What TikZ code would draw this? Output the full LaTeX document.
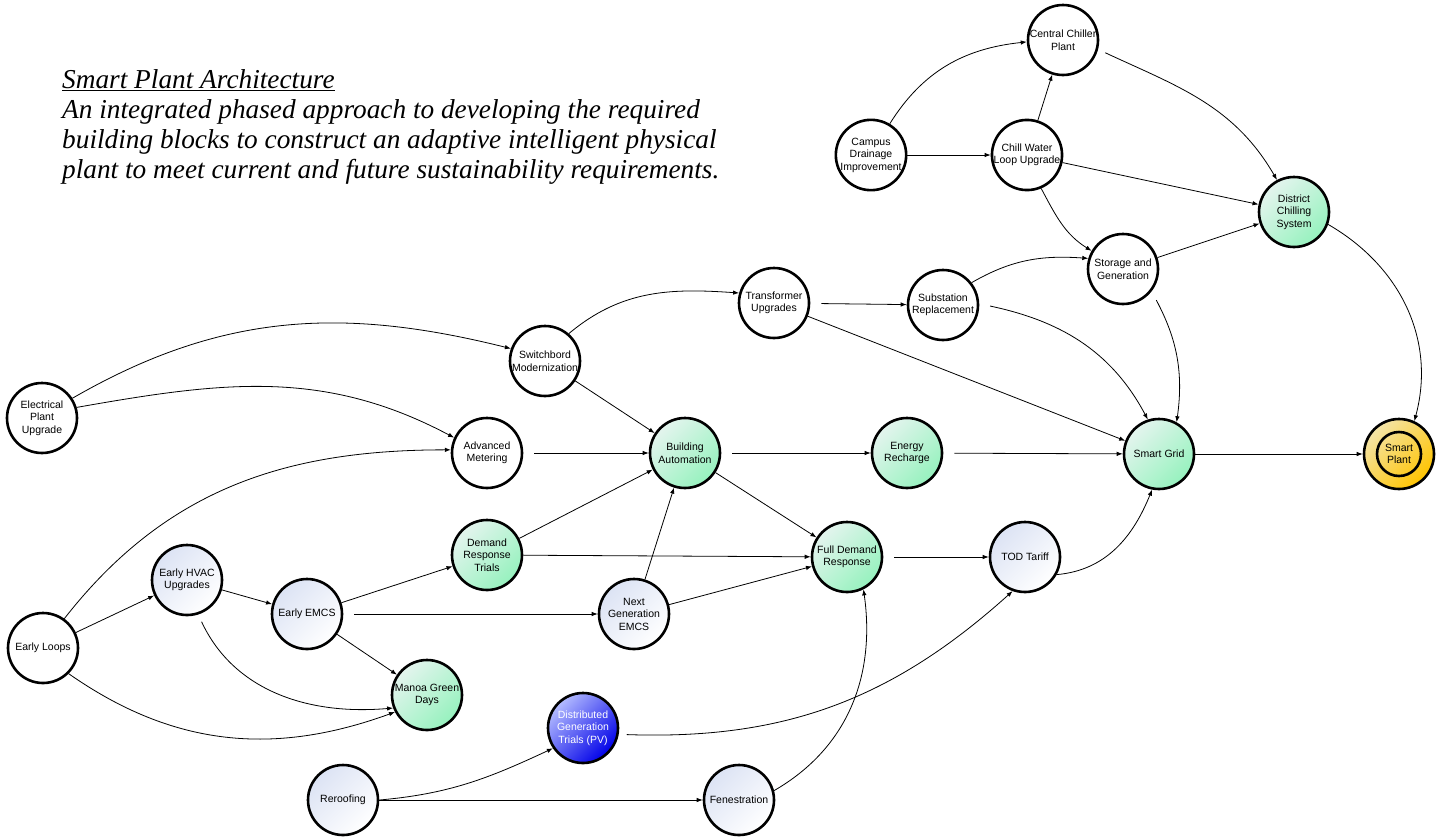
\documentclass[tikz,border=0pt]{standalone}
\usepackage{fontspec}
\setmainfont{Liberation Serif}
\newfontfamily\arial{Liberation Sans}
\usetikzlibrary{arrows.meta}
\definecolor{greenA}{HTML}{E4F4EE}
\definecolor{greenB}{HTML}{96F2BE}
\definecolor{lblueA}{HTML}{DCE3F4}
\definecolor{lblueB}{HTML}{FFFFFF}
\definecolor{blueA}{HTML}{B4BCFF}
\definecolor{blueB}{HTML}{0000E8}
\definecolor{goldA}{HTML}{F4E4A8}
\definecolor{goldB}{HTML}{FFC400}
\begin{document}
\begin{tikzpicture}[x=1pt,y=1pt,
  bub/.style={circle, draw=black, line width=2.6pt, minimum size=70pt, inner sep=0pt, align=center,
    font=\arial\fontsize{10.5}{12.5}\selectfont},
  plainbub/.style={bub, fill=white},
  greenbub/.style={bub, top color=greenA, bottom color=greenB, shading angle=45},
  lightbub/.style={bub, top color=lblueA, bottom color=lblueB, shading angle=45},
  bluebub/.style={bub, top color=blueA, bottom color=blueB, shading angle=45, text=white},
  goldbub/.style={bub, top color=goldA, bottom color=goldB, shading angle=45},
  edge/.style={line width=0.8pt, -{Latex[length=6pt,width=4.5pt]}},
  gap/.style={shorten <=11pt}
]
\useasboundingbox (0,0) rectangle (1442,-836);

\node[anchor=north west, inner sep=0pt, align=left,
  font=\itshape\fontsize{27.3}{30}\selectfont] (title) at (62,-69)
  {\underline{Smart Plant Architecture}\\
   An integrated phased approach to developing the required\\
   building blocks to construct an adaptive intelligent physical\\
   plant to meet current and future sustainability requirements.};

\node[plainbub] (chiller) at (1063,-40) {Central Chiller\\Plant};
\node[plainbub] (campus) at (871,-155) {Campus\\Drainage\\Improvement};
\node[plainbub] (chill) at (1027,-155) {Chill Water\\Loop Upgrade};
\node[greenbub] (district) at (1294,-212) {District\\Chilling\\System};
\node[plainbub] (storage) at (1123,-269) {Storage and\\Generation};
\node[plainbub] (substation) at (943,-305) {Substation\\Replacement};
\node[plainbub] (transformer) at (774,-303) {Transformer\\Upgrades};
\node[plainbub] (switch) at (545,-361) {Switchbord\\Modernization};
\node[greenbub] (ba) at (685,-453) {Building\\Automation};
\node[greenbub] (er) at (907,-453) {Energy\\Recharge};
\node[greenbub] (fdr) at (847,-557) {Full Demand\\Response};
\node[lightbub] (nextgen) at (634,-614) {Next\\Generation\\EMCS};
\node[greenbub] (grid) at (1159,-454) {Smart Grid};
\node[goldbub] (plant) at (1399,-454) {Smart\\Plant};
\draw[line width=2.6pt] (plant.center) circle (22pt);
\node[plainbub] (epu) at (42,-418) {Electrical\\Plant\\Upgrade};
\node[plainbub] (am) at (487,-453) {Advanced\\Metering};
\node[greenbub] (drt) at (487,-555) {Demand\\Response\\Trials};
\node[lightbub] (hvac) at (187,-580) {Early HVAC\\Upgrades};
\node[lightbub] (emcs) at (307,-614) {Early EMCS};
\node[plainbub] (loops) at (43,-648) {Early Loops};
\node[greenbub] (manoa) at (427,-695) {Manoa Green\\Days};
\node[lightbub] (reroof) at (343,-800) {Reroofing};
\node[bluebub] (dg) at (583,-728) {Distributed\\Generation\\Trials (PV)};
\node[lightbub] (fen) at (739,-800) {Fenestration};
\node[lightbub] (tod) at (1025,-557) {TOD Tariff};

% top cluster
\draw[edge] (campus.59) to[out=58, in=186] (chiller.183);
\draw[edge] (campus) -- (chill);
\draw[edge] (chill) -- (chiller);
\draw[edge, shorten <=8pt] (chiller.-15) to[out=-25, in=120] (district.118);
\draw[edge] (chill) -- (district);
\draw[edge] (chill.-67) to[out=-62, in=148] (storage.150);
\draw[edge] (storage) -- (district);
\draw[edge] (substation.38) to[out=30, in=176] (storage.163);
\draw[edge, gap] (transformer) -- (substation);
\draw[edge] (transformer) -- (grid);
\draw[edge, shorten <=11pt] (substation.2) to[out=-12, in=118] (grid.108);
\draw[edge, shorten <=10pt] (storage.-38) to[out=-62, in=82] (grid.61);
\draw[edge] (district.-20) to[out=-30, in=75] (plant.65);
\draw[edge] (grid) -- (plant);
% middle
\draw[edge] (switch.49) to[out=40, in=176] (transformer.164);
\draw[edge] (epu.33) to[out=30, in=166] (switch.160);
\draw[edge] (epu.17) to[out=10, in=152] (am.155);
\draw[edge] (loops.54) to[out=52, in=180] (am.175);
\draw[edge, gap] (am) -- (ba);
\draw[edge] (switch) -- (ba);
\draw[edge, gap] (ba) -- (er);
\draw[edge, gap] (er) -- (grid);
\draw[edge] (ba) -- (fdr);
\draw[edge] (drt) -- (ba);
\draw[edge] (drt) -- (fdr);
\draw[edge] (nextgen) -- (ba);
\draw[edge] (nextgen) -- (fdr);
\draw[edge, gap] (fdr) -- (tod);
\draw[edge] (tod.-29) to[out=5, in=-112] (grid.-101);
% lower left
\draw[edge] (loops) -- (hvac);
\draw[edge] (hvac) -- (emcs);
\draw[edge] (emcs) -- (drt);
\draw[edge, gap] (emcs) -- (nextgen);
\draw[edge] (emcs) -- (manoa);
\draw[edge, shorten <=8pt] (hvac.-72) to[out=-65, in=185] (manoa.201);
\draw[edge] (loops.-45) to[out=-35, in=200] (manoa.208);
\draw[edge] (reroof.east) to[out=5, in=205] (dg.214);
\draw[edge] (reroof) -- (fen);
\draw[edge, shorten <=8pt] (dg.-10) to[out=-2, in=222] (tod.250);
\draw[edge] (fen.15) to[out=30, in=-82] (fdr.-63);
\end{tikzpicture}
\end{document}
